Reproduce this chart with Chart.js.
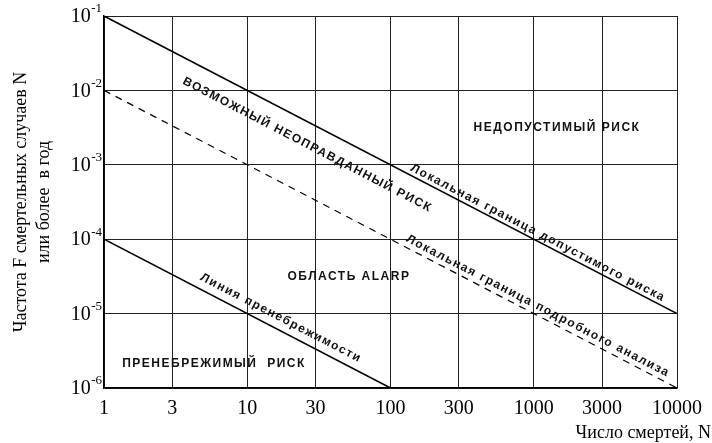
<!DOCTYPE html>
<html>
<head>
<meta charset="utf-8">
<script src="https://cdn.jsdelivr.net/npm/chart.js@4.4.1/dist/chart.umd.min.js"></script>
<style>
  html, body { margin: 0; padding: 0; background: #fff; }
  #wrap { width: 712px; height: 443px; position: relative; }
</style>
</head>
<body>
<div id="wrap"><canvas id="c" width="712" height="443"></canvas></div>
<script>
// ---- data ----
const xTickValues = [1, 3, 10, 30, 100, 300, 1000, 3000, 10000];
const xTickLabels = ['1', '3', '10', '30', '100', '300', '1000', '3000', '10000'];
const yTickValues = [1e-6, 1e-5, 1e-4, 1e-3, 1e-2, 1e-1];
const yTickExponents = ['-6', '-5', '-4', '-3', '-2', '-1'];

const upperLineN = [1, 10000];
const upperLineF = [1e-1, 1e-5];
const detailLineN = [1, 10000];
const detailLineF = [1e-2, 1e-6];
const negligibleLineN = [1, 100];
const negligibleLineF = [1e-4, 1e-6];

const regionLabels = [
  'ВОЗМОЖНЫЙ НЕОПРАВДАННЫЙ РИСК',
  'НЕДОПУСТИМЫЙ РИСК',
  'Локальная граница допустимого риска',
  'Локальная граница подробного анализа',
  'ОБЛАСТЬ ALARP',
  'Линия пренебрежимости',
  'ПРЕНЕБРЕЖИМЫЙ  РИСК'
];
const regionLabelN = [26.3, 1453, 1070, 1070, 51.3, 17.2, 5.86];
const regionLabelF = [1.85e-3, 3.2e-3, 1.21e-4, 1.26e-5, 3.1e-5, 8.7e-6, 2.1e-6];
const regionLabelLine = [0, null, 0, 1, null, 2, null]; // dataset the label runs along

const yTitleLines = ['Частота F смертельных случаев N', 'или более  в год'];
const xTitle = 'Число смертей, N';

function pts(xs, ys) { return xs.map((v, i) => ({ x: v, y: ys[i] })); }

const SERIF = '"Liberation Serif", "Times New Roman", serif';
const SANS = '"Liberation Sans", Arial, sans-serif';

const decorPlugin = {
  id: 'decor',
  beforeDraw(chart) {
    const ctx = chart.ctx;
    ctx.save();
    ctx.fillStyle = '#fff';
    ctx.fillRect(0, 0, chart.width, chart.height);
    ctx.restore();
  },
  afterDraw(chart) {
    const { ctx, scales: { x, y } } = chart;
    ctx.save();
    // y tick labels: 10 with superscript exponent
    const left = chart.chartArea.left;
    yTickValues.forEach((v, i) => {
      const py = y.getPixelForValue(v);
      ctx.fillStyle = '#000';
      ctx.textBaseline = 'middle';
      ctx.textAlign = 'right';
      ctx.font = '13px ' + SERIF;
      const ew = ctx.measureText(yTickExponents[i]).width;
      const ex = left - 2;
      ctx.fillText(yTickExponents[i], ex, py - 7);
      ctx.font = '20px ' + SERIF;
      ctx.fillText('10', ex - ew - 0.5, py + 1);
    });
    // x title, right aligned to canvas edge
    ctx.font = '18px ' + SERIF;
    ctx.textAlign = 'right';
    ctx.textBaseline = 'alphabetic';
    ctx.fillStyle = '#000';
    ctx.fillText(xTitle, chart.width - 1, 438);

    // region labels
    ctx.fillStyle = '#111';
    ctx.font = 'bold 12px ' + SANS;
    ctx.letterSpacing = '1.5px';
    ctx.textAlign = 'center';
    ctx.textBaseline = 'middle';
    regionLabels.forEach((t, i) => {
      const px = x.getPixelForValue(regionLabelN[i]);
      const py = y.getPixelForValue(regionLabelF[i]);
      let ang = 0;
      const li = regionLabelLine[i];
      if (li !== null) {
        const d = chart.data.datasets[li].data;
        const a = d[0], b = d[d.length - 1];
        ang = Math.atan2(y.getPixelForValue(b.y) - y.getPixelForValue(a.y),
                         x.getPixelForValue(b.x) - x.getPixelForValue(a.x));
      }
      ctx.save();
      ctx.translate(px, py);
      ctx.rotate(ang);
      ctx.fillText(t, 0, 0);
      ctx.restore();
    });
    ctx.restore();
  }
};

const lineStyle = { borderColor: '#000', pointRadius: 0, fill: false, tension: 0 };

new Chart(document.getElementById('c'), {
  type: 'line',
  data: {
    datasets: [
      Object.assign({ label: 'Локальная граница допустимого риска', data: pts(upperLineN, upperLineF), borderWidth: 1.6 }, lineStyle),
      Object.assign({ label: 'Локальная граница подробного анализа', data: pts(detailLineN, detailLineF), borderWidth: 1.2, borderDash: [7, 6] }, lineStyle),
      Object.assign({ label: 'Линия пренебрежимости', data: pts(negligibleLineN, negligibleLineF), borderWidth: 1.6 }, lineStyle)
    ]
  },
  options: {
    responsive: false,
    animation: false,
    devicePixelRatio: 1,
    layout: { padding: { left: 0, right: 35, top: 16, bottom: 0 } },
    plugins: { legend: { display: false }, tooltip: { enabled: false } },
    scales: {
      x: {
        type: 'logarithmic',
        min: 1, max: 10000,
        afterBuildTicks: (s) => { s.ticks = xTickValues.map(v => ({ value: v })); },
        afterFit: (s) => { s.height = 55; },
        grid: { color: '#222', lineWidth: 1, drawTicks: false },
        border: { color: '#000', width: 1.5 },
        ticks: {
          autoSkip: false, maxRotation: 0, padding: 9,
          color: '#000',
          font: { family: SERIF, size: 20 },
          callback: (v, i) => xTickLabels[i]
        }
      },
      y: {
        type: 'logarithmic',
        min: 1e-6, max: 1e-1,
        afterBuildTicks: (s) => { s.ticks = yTickValues.map(v => ({ value: v })); },
        afterFit: (s) => { s.width = 104; },
        grid: { color: '#222', lineWidth: 1, drawTicks: false },
        border: { color: '#000', width: 1.5 },
        ticks: { display: false },
        title: {
          display: true,
          text: yTitleLines,
          color: '#000',
          font: { family: SERIF, size: 18, lineHeight: 1.28 },
          padding: { top: 10, bottom: 0 }
        }
      }
    }
  },
  plugins: [decorPlugin]
});
</script>
</body>
</html>
